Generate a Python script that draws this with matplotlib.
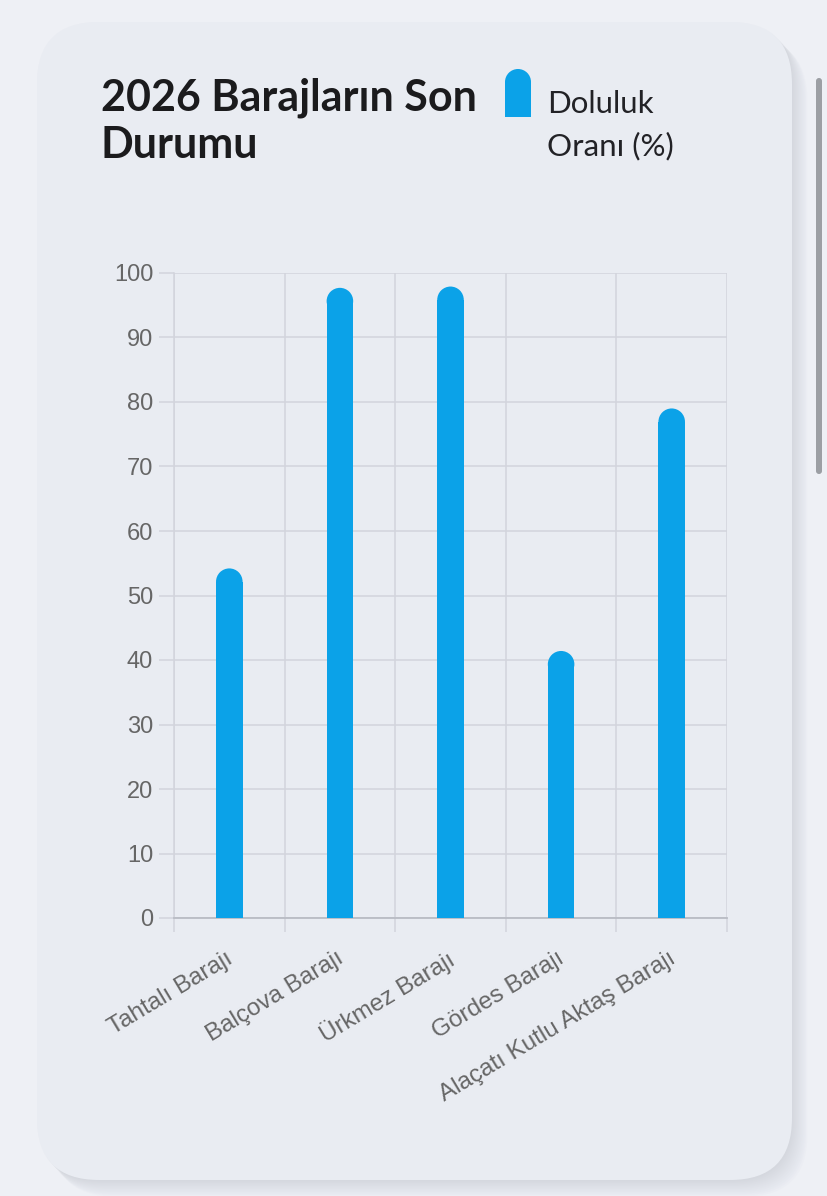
import matplotlib.pyplot as plt
import matplotlib.transforms as mtransforms
from matplotlib.patches import FancyBboxPatch, Ellipse, Rectangle

# data
dams = ['Tahtalı Barajı', 'Balçova Barajı', 'Ürkmez Barajı',
        'Gördes Barajı', 'Alaçatı Kutlu Aktaş Barajı']
fill_rate = [54.2, 97.7, 97.9, 41.4, 79.0]
yticks = list(range(0, 101, 10))

title_lines = ['2026 Barajların Son', 'Durumu']
legend_lines = ['Doluluk', 'Oranı (%)']

bar_color = '#0ba2e8'
grid_color = '#d2d4dc'
label_color = '#666666'

W, H = 828, 1196
fig = plt.figure(figsize=(W / 100, H / 100), dpi=100)
fig.patch.set_facecolor('#eef0f5')

# background layer in pixel units (card, shadow, scrollbar, title, legend)
bg = fig.add_axes([0, 0, 1, 1], zorder=0)
bg.set_xlim(0, W)
bg.set_ylim(H, 0)
bg.axis('off')

# soft shadow to the right / bottom of the card
for k in range(12):
    sh = FancyBboxPatch((37 + k * 1.4, 22 + k * 1.5), 755, 1158,
                        boxstyle='round,pad=0,rounding_size=62',
                        fc='#b4b8c4', ec='none', alpha=0.04)
    bg.add_patch(sh)
card = FancyBboxPatch((37, 22), 755, 1158,
                      boxstyle='round,pad=0,rounding_size=62',
                      fc='#e9ecf2', ec='none')
bg.add_patch(card)

# scrollbar
bg.add_patch(FancyBboxPatch((816, 78), 6, 396,
                            boxstyle='round,pad=0,rounding_size=3',
                            fc='#9c9fa4', ec='none'))

# title
for i, line in enumerate(title_lines):
    bg.text(101, 110 + i * 48, line, fontsize=31, fontweight='bold',
            family='Lato', color='#1b1b1d', va='baseline', ha='left')

# legend key + text
bg.add_patch(Ellipse((518, 82), 26, 26, fc=bar_color, ec='none'))
bg.add_patch(Rectangle((505, 82), 26, 35, fc=bar_color, ec='none'))
for i, line in enumerate(legend_lines):
    bg.text(547, 113 + i * 42, line, fontsize=22.5, family='Lato',
            color='#222226', va='baseline', ha='left')

# chart
ax = fig.add_axes([174 / W, 278 / H, 553 / W, 645 / H], zorder=1)
ax.set_facecolor('none')
ax.set_xlim(-0.5, len(dams) - 0.5)
ax.set_ylim(0, 100)

bw = 0.24
x = list(range(len(dams)))
# half the bar width expressed in y data units, so the cap is a circle
px_x = ax.transData.transform((bw, 0))[0] - ax.transData.transform((0, 0))[0]
px_y = ax.transData.transform((0, 1))[1] - ax.transData.transform((0, 0))[1]
r = (px_x / 2) / px_y

ax.bar(x, [v - r for v in fill_rate], width=bw, color=bar_color, zorder=3)
for xi, v in zip(x, fill_rate):
    ax.add_patch(Ellipse((xi, v - r), bw, 2 * r, fc=bar_color, ec='none', zorder=3))

ax.set_yticks(yticks)
ax.set_yticklabels([str(t) for t in yticks])
ax.set_xticks(x)
ax.set_xticklabels(dams, rotation=31, ha='right', va='top', rotation_mode='anchor')
ax.set_xticks([i - 0.5 for i in range(len(dams) + 1)], minor=True)

ax.grid(axis='y', color=grid_color, lw=1.1, zorder=0)
ax.grid(axis='x', which='minor', color=grid_color, lw=1.1, zorder=0)
ax.tick_params(axis='y', length=11, width=1.1, color=grid_color, pad=4,
               labelsize=17, labelcolor=label_color)
ax.tick_params(axis='x', which='major', length=0, pad=21,
               labelsize=17.5, labelcolor=label_color)
ax.tick_params(axis='x', which='minor', length=10, width=1.1, color=grid_color)
shift = mtransforms.ScaledTranslation(-4 / 100, 0, fig.dpi_scale_trans)
for lbl in ax.get_xticklabels():
    lbl.set_transform(lbl.get_transform() + shift)
for lbl in ax.get_xticklabels() + ax.get_yticklabels():
    lbl.set_family('Liberation Sans')

for s in ['top', 'right']:
    ax.spines[s].set_visible(False)
ax.spines['left'].set_color(grid_color)
ax.spines['bottom'].set_color('#b9bcc4')
ax.spines['left'].set_linewidth(1.1)
ax.spines['bottom'].set_linewidth(1.3)

fig.savefig('out.png', dpi=100, facecolor=fig.get_facecolor())
